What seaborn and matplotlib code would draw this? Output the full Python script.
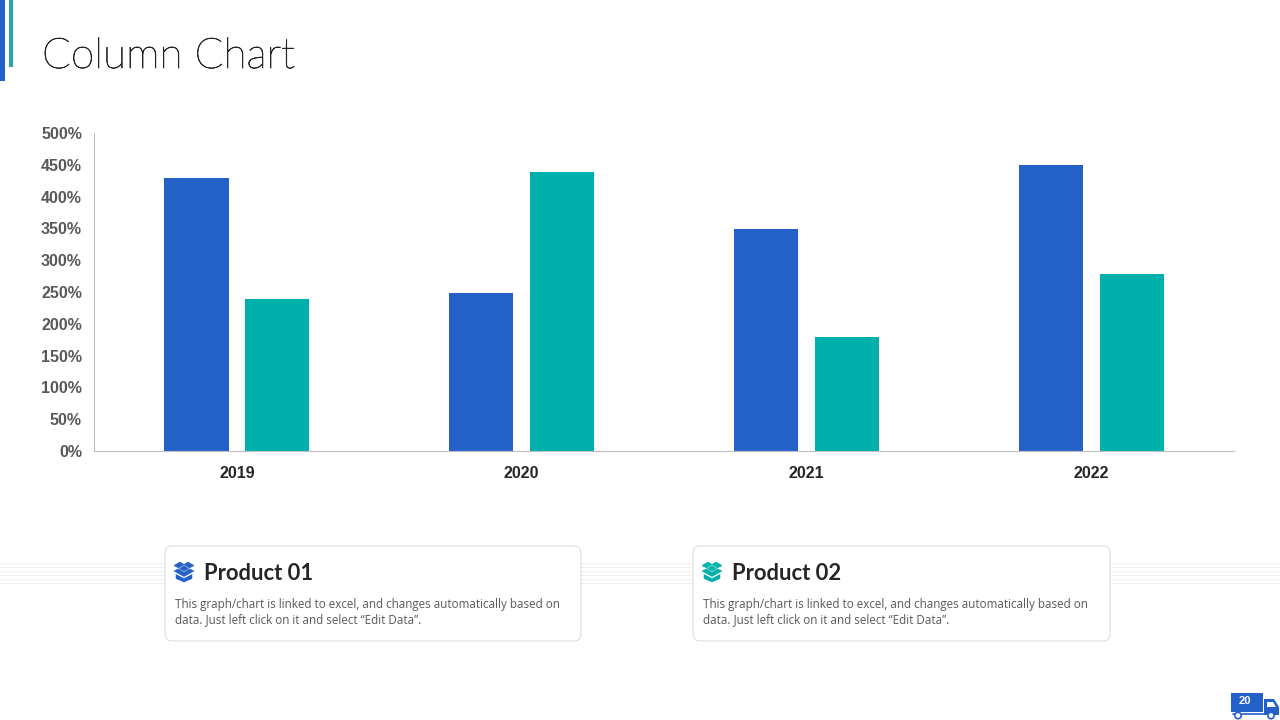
import matplotlib
matplotlib.use('Agg')
import matplotlib.pyplot as plt
import matplotlib.patheffects as pe
import pandas as pd
import seaborn as sns
from matplotlib.patches import Circle, FancyBboxPatch, Polygon, Rectangle

years = ['2019', '2020', '2021', '2022']
product_01 = [430, 249, 349, 450]
product_02 = [239, 439, 179, 279]
y_ticks = [0, 50, 100, 150, 200, 250, 300, 350, 400, 450, 500]
card_names = ['Product 01', 'Product 02']
card_text = ['This graph/chart is linked to excel, and changes automatically based on',
             'data. Just left click on it and select \u201cEdit Data\u201d.']

BLUE = '#2361C9'
TEAL = '#00B1AB'

df = pd.DataFrame({
    'year': years * 2,
    'value': product_01 + product_02,
    'product': [card_names[0]] * 4 + [card_names[1]] * 4,
})

sns.set_theme(style='white')
plt.rcParams['font.family'] = ['Liberation Sans', 'DejaVu Sans']

fig = plt.figure(figsize=(12.8, 7.2), dpi=100, facecolor='white')

# page furniture, in pixel coordinates
bg = fig.add_axes([0, 0, 1, 1], zorder=0)
bg.set_xlim(0, 1280)
bg.set_ylim(720, 0)
bg.axis('off')


def box_icon(x, y, color):
    # x, y = top left of a 20 px wide glyph
    def shape(pts):
        bg.add_patch(Polygon([(x + a, y + b) for a, b in pts], closed=True, fc=color, ec=color, lw=0.4, zorder=5))
    shape([(0, 4), (6, 0.5), (10, 3), (4.5, 6.5)])
    shape([(20, 4), (14, 0.5), (10, 3), (15.5, 6.5)])
    shape([(5.5, 7), (10, 4.2), (14.5, 7), (10, 9.8)])
    shape([(0, 9.5), (4.5, 7.4), (10, 11), (15.5, 7.4), (20, 9.5), (10, 15)])
    shape([(2, 13), (10, 17), (18, 13), (18, 17), (10, 20.5), (2, 17)])


bg.add_patch(Rectangle((0, 0), 5, 81, fc=BLUE, ec='none'))
bg.add_patch(Rectangle((9, 0), 4, 67, fc='#2AA3AD', ec='none'))
title = bg.text(42, 57, 'Column Chart', family='Lato', weight='light', fontsize=30.5, color='#262626',
                ha='left', va='center')
title.set_path_effects([pe.withStroke(linewidth=0.5, foreground='#262626')])

for yy in range(563, 586, 4):
    bg.plot([0, 1280], [yy, yy], color='#EFEFEF', lw=0.7, zorder=1)

for left, right, name, color in [(165, 581, card_names[0], BLUE), (693, 1110, card_names[1], TEAL)]:
    bg.add_patch(FancyBboxPatch((left + 7, 553), right - left - 14, 81,
                                boxstyle='round,pad=7,rounding_size=7',
                                fc='white', ec='#D9D9D9', lw=0.7, zorder=2))
    box_icon(left + 9, 561.5, color)
    bg.text(left + 38.5, 573, name, family='Lato', weight='bold', fontsize=15.8, color='#262626',
            ha='left', va='center', zorder=5)
    bg.text(left + 10, 604.5, card_text[0], family='Open Sans', fontsize=8.4, color='#595959',
            ha='left', va='center', zorder=5)
    bg.text(left + 10, 620, card_text[1], family='Open Sans', fontsize=8.4, color='#595959',
            ha='left', va='center', zorder=5)

# truck with page number
bg.add_patch(Rectangle((1231, 693), 32, 19, fc=BLUE, ec='none', zorder=3))
bg.plot([1233, 1264], [714, 714], color=BLUE, lw=1.2, zorder=3)
bg.add_patch(Polygon([(1264, 699), (1274, 699), (1279, 707), (1279, 715), (1264, 715)], fc=BLUE, ec='none', zorder=3))
bg.add_patch(Polygon([(1267, 702), (1273, 702), (1276, 707), (1267, 707)], fc='white', ec='none', zorder=4))
for wx in (1238, 1271):
    bg.add_patch(Circle((wx, 715.5), 3.2, fc='white', ec=BLUE, lw=1.2, zorder=5))
bg.text(1245, 701, '20', fontsize=8, weight='bold', color='white', ha='center', va='center', zorder=5)

# the chart itself
ax = fig.add_axes([94.4 / 1280, 1 - 451 / 720, 1139.5 / 1280, 318 / 720], zorder=2)
ax.patch.set_alpha(0)
sns.barplot(data=df, x='year', y='value', hue='product', palette=[BLUE, TEAL],
            width=0.568, gap=0.205, saturation=1, legend=False, linewidth=0, ax=ax)
ax.set_ylim(0, 500)
ax.set_xlim(-0.5, 3.5)
ax.set_yticks(y_ticks)
ax.set_yticklabels([f'{v}%' for v in y_ticks])
ax.set_xlabel('')
ax.set_ylabel('')
ax.tick_params(axis='y', length=0, pad=9, labelsize=11.5, labelcolor='#595959')
ax.tick_params(axis='x', length=0, pad=11, labelsize=11.5, labelcolor='#262626')
for lab in ax.get_xticklabels() + ax.get_yticklabels():
    lab.set_fontweight('bold')
sns.despine(ax=ax)
for side in ('left', 'bottom'):
    ax.spines[side].set_color('#BFBFBF')
    ax.spines[side].set_linewidth(0.8)

fig.savefig('out.png', dpi=100)
